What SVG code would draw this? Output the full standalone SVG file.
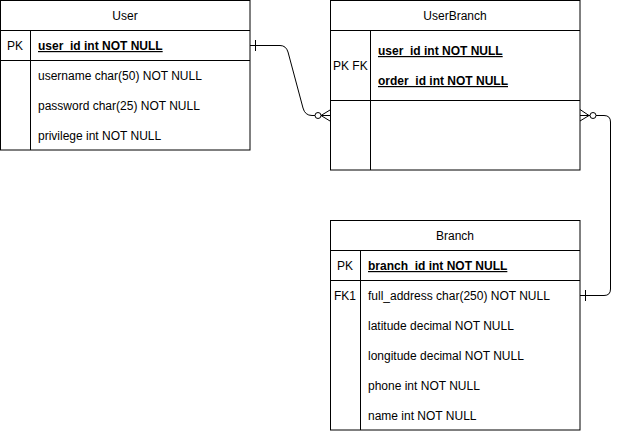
<svg xmlns="http://www.w3.org/2000/svg" width="620" height="431" viewBox="0 0 620 431">
<style>
.box{fill:#fff;stroke:#000;stroke-width:1}
.ln{stroke:#000;stroke-width:1;fill:none}
text{font-family:"Liberation Sans",Arial,sans-serif;font-size:12px;fill:#000}
.c{text-anchor:middle}
.pk{font-weight:bold;text-decoration:underline}
</style>
<rect width="620" height="431" fill="#fff"/>
<g id="User">
<rect class="box" x="0.5" y="0.5" width="249.5" height="149.5"/>
<line class="ln" x1="0.5" y1="30.5" x2="250" y2="30.5"/>
<line class="ln" x1="0.5" y1="60.5" x2="250" y2="60.5"/>
<line class="ln" x1="30.5" y1="30.5" x2="30.5" y2="150"/>
<text class="c" x="125" y="20">User</text>
<text x="7" y="50">PK</text>
<text class="pk" x="38" y="50">user_id int NOT NULL</text>
<text x="38" y="80">username char(50) NOT NULL</text>
<text x="38" y="110">password char(25) NOT NULL</text>
<text x="38" y="140">privilege int NOT NULL</text>
</g>
<g id="UserBranch">
<rect class="box" x="330.5" y="0.5" width="249.5" height="169.5"/>
<line class="ln" x1="330.5" y1="30.5" x2="580" y2="30.5"/>
<line class="ln" x1="330.5" y1="100.5" x2="580" y2="100.5"/>
<line class="ln" x1="370.5" y1="30.5" x2="370.5" y2="170"/>
<text class="c" x="455" y="20">UserBranch</text>
<text x="333" y="70">PK FK</text>
<text class="pk" x="378" y="55">user_id int NOT NULL</text>
<text class="pk" x="378" y="85">order_id int NOT NULL</text>
</g>
<g id="Branch">
<rect class="box" x="330.5" y="220.5" width="249.5" height="209.5"/>
<line class="ln" x1="330.5" y1="250.5" x2="580" y2="250.5"/>
<line class="ln" x1="330.5" y1="280.5" x2="580" y2="280.5"/>
<line class="ln" x1="360.5" y1="250.5" x2="360.5" y2="430"/>
<text class="c" x="455" y="240">Branch</text>
<text x="337" y="270">PK</text>
<text class="pk" x="368" y="270">branch_id int NOT NULL</text>
<text x="334" y="300">FK1</text>
<text x="368" y="300">full_address char(250) NOT NULL</text>
<text x="368" y="330">latitude decimal NOT NULL</text>
<text x="368" y="360">longitude decimal NOT NULL</text>
<text x="368" y="390">phone int NOT NULL</text>
<text x="368" y="420">name int NOT NULL</text>
</g>
<g id="connectors">
<path class="ln" d="M250 45.5 H280 Q286 45.5 288 52 L303 108 Q305 115.5 312 115.5 H315"/>
<line class="ln" x1="255.5" y1="40" x2="255.5" y2="51"/>
<circle class="ln" cx="318" cy="115.5" r="3"/>
<path class="ln" d="M321 115.5 H330 M321 115.5 L330 110 M321 115.5 L330 121"/>
<path class="ln" d="M580 109.5 L589 115.5 L580 121 M580 115.5 H590"/>
<circle class="ln" cx="593" cy="115.5" r="3"/>
<path class="ln" d="M596 115.5 H604 Q610.5 115.5 610.5 122 V289 Q610.5 295.5 604 295.5 H580"/>
<line class="ln" x1="585.5" y1="290" x2="585.5" y2="301"/>
</g>
</svg>
